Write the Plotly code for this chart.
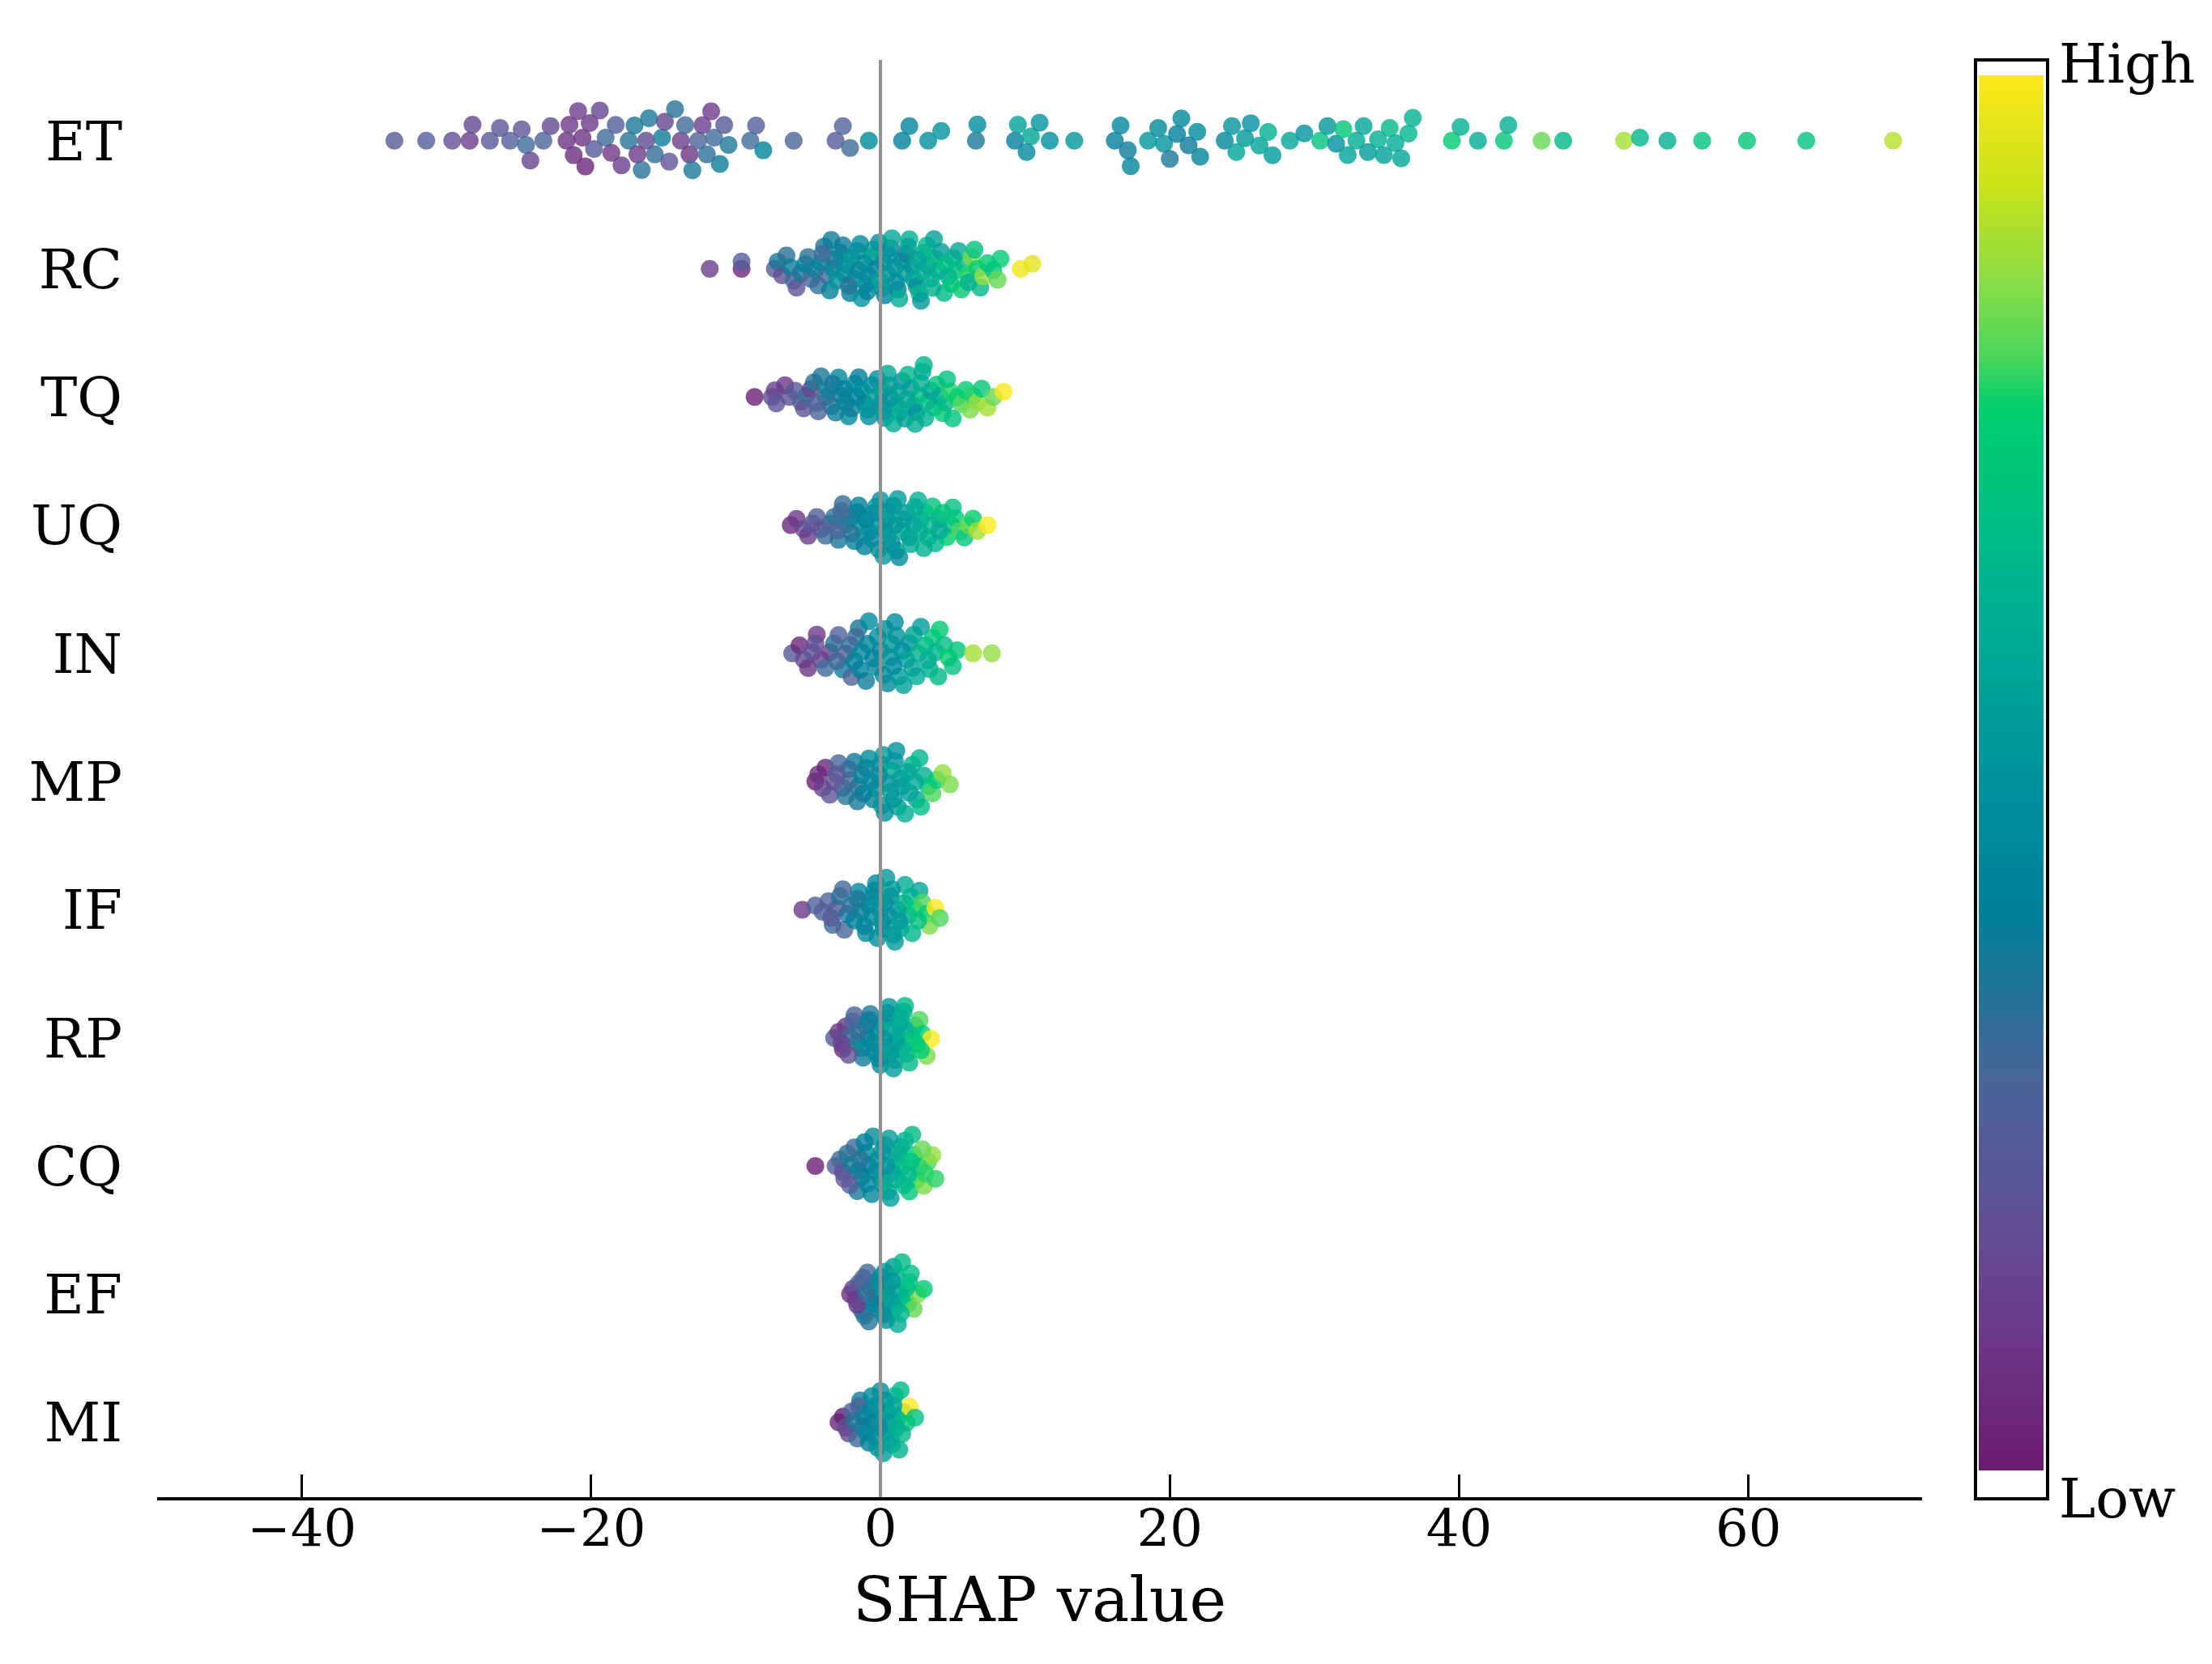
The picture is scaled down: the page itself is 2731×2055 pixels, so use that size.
import numpy as np
import plotly.graph_objects as go

# feature names, top to bottom
features = ["ET", "RC", "TQ", "UQ", "IN", "MP", "IF", "RP", "CQ", "EF", "MI"]

et_shap = [-33.6, -31.4, -29.6, -28.4, -28.2, -27.0, -26.3, -25.6, -24.8, -24.5,
           -24.2, -23.3, -22.8, -21.7, -21.5, -21.2, -20.9, -20.6, -20.4, -20.1,
           -19.8, -19.4, -19.0, -18.6, -18.3, -17.9, -17.4, -17.0, -16.8, -16.5,
           -16.2, -16.0, -15.6, -15.1, -14.9, -14.6, -14.2, -13.8, -13.5, -13.2,
           -13.0, -12.6, -12.3, -12.0, -11.7, -11.5, -11.1, -10.8, -10.5, -9.0,
           -8.6, -8.1, -6.0, -3.1, -2.6, -2.1, -0.8, 1.5, 2.0, 3.3,
           4.2, 6.6, 6.7, 9.3, 9.5, 10.1, 10.4, 11.0, 11.7, 13.4,
           16.2, 16.6, 17.1, 17.3, 18.5, 19.2, 19.6, 20.0, 20.5, 20.8,
           21.3, 21.9, 22.1, 23.8, 24.3, 24.6, 25.2, 25.6, 26.2, 26.8,
           27.1, 28.3, 29.3, 30.4, 30.9, 31.5, 32.0, 32.3, 32.9, 33.4,
           33.7, 34.4, 34.8, 35.2, 35.6, 36.0, 36.5, 36.8, 39.5, 40.1,
           41.3, 43.1, 43.4, 45.7, 47.2, 51.4, 52.5, 54.4, 56.8, 59.9,
           64.0, 70.0]
et_value = [0.22, 0.25, 0.18, 0.12, 0.15, 0.22, 0.20, 0.25, 0.20, 0.30,
            0.14, 0.28, 0.16, 0.08, 0.10, 0.06, 0.12, 0.08, 0.04, 0.10,
            0.22, 0.14, 0.30, 0.09, 0.25, 0.12, 0.34, 0.36, 0.10, 0.33,
            0.16, 0.36, 0.32, 0.38, 0.14, 0.20, 0.34, 0.11, 0.30, 0.08,
            0.36, 0.28, 0.12, 0.33, 0.10, 0.30, 0.38, 0.22, 0.35, 0.30,
            0.25, 0.42, 0.28, 0.22, 0.26, 0.30, 0.46, 0.40, 0.42, 0.48,
            0.50, 0.36, 0.47, 0.40, 0.56, 0.45, 0.58, 0.50, 0.48, 0.52,
            0.40, 0.44, 0.38, 0.42, 0.52, 0.46, 0.50, 0.36, 0.40, 0.44,
            0.38, 0.46, 0.42, 0.44, 0.50, 0.58, 0.52, 0.48, 0.56, 0.62,
            0.54, 0.58, 0.50, 0.70, 0.52, 0.48, 0.72, 0.56, 0.60, 0.58,
            0.54, 0.62, 0.56, 0.66, 0.60, 0.58, 0.64, 0.62, 0.74, 0.62,
            0.60, 0.72, 0.62, 0.82, 0.66, 0.88, 0.64, 0.62, 0.70, 0.72,
            0.70, 0.90]

rc_shap = [-11.8, -9.6, -9.6, -7.3, -7.1, -6.8, -6.5, -6.2, -6.0, -5.8,
           -5.5, -5.2, -5.0, -4.8, -4.5, -4.3, -4.1, -3.9, -3.7, -3.5,
           -3.3, -3.1, -3.0, -2.8, -2.6, -2.5, -2.3, -2.1, -2.0, -1.8,
           -1.6, -1.5, -1.3, -1.1, -1.0, -0.8, -0.6, -0.5, -0.3, -0.1,
           0.0, 0.2, 0.3, 0.5, 0.7, 0.8, 1.0, 1.2, 1.3, 1.5,
           1.7, 1.8, 2.0, 2.2, 2.3, 2.5, 2.7, 2.8, 3.0, 3.2,
           3.3, 3.5, 3.7, 3.8, 4.0, 4.2, 4.4, 4.5, 4.7, 4.9,
           5.0, 5.2, 5.4, 5.6, 5.8, 6.0, 6.1, 6.3, 6.5, 6.7,
           6.9, 7.1, 7.4, 7.8, 8.1, 8.3, 9.7, 10.5, -0.9, 0.6,
           -2.2, 1.1, 2.6, -4.0, 3.6, -1.4, 0.1, 1.9, -3.4, 2.9]
rc_value = [0.12, 0.04, 0.24, 0.22, 0.36, 0.18, 0.34, 0.38, 0.30, 0.20,
            0.36, 0.40, 0.34, 0.28, 0.38, 0.32, 0.42, 0.36, 0.30, 0.40,
            0.45, 0.36, 0.50, 0.42, 0.38, 0.46, 0.48, 0.40, 0.52, 0.44,
            0.48, 0.42, 0.50, 0.46, 0.54, 0.44, 0.50, 0.58, 0.42, 0.48,
            0.56, 0.46, 0.40, 0.52, 0.44, 0.58, 0.50, 0.42, 0.60, 0.48,
            0.54, 0.38, 0.62, 0.50, 0.56, 0.46, 0.64, 0.52, 0.58, 0.66,
            0.50, 0.60, 0.56, 0.68, 0.62, 0.54, 0.66, 0.70, 0.60, 0.72,
            0.64, 0.68, 0.58, 0.74, 0.66, 0.78, 0.62, 0.84, 0.70, 0.76,
            0.64, 0.86, 0.74, 0.70, 0.82, 0.74, 0.98, 0.96, 0.40, 0.50,
            0.34, 0.48, 0.58, 0.30, 0.62, 0.46, 0.52, 0.56, 0.38, 0.60]

tq_shap = [-8.7, -7.5, -7.3, -7.2, -6.6, -6.3, -5.9, -5.5, -5.3, -5.1,
           -4.8, -4.6, -4.4, -4.1, -3.8, -3.6, -3.4, -3.1, -2.9, -2.7,
           -2.4, -2.2, -2.0, -1.8, -1.5, -1.3, -1.1, -0.9, -0.6, -0.4,
           -0.2, 0.1, 0.3, 0.5, 0.7, 0.9, 1.1, 1.3, 1.5, 1.7,
           1.9, 2.1, 2.3, 2.5, 2.7, 2.9, 3.1, 3.3, 3.5, 3.7,
           3.9, 4.1, 4.3, 4.5, 4.8, 5.0, 5.3, 5.6, 5.9, 6.2,
           6.4, 6.7, 7.0, 7.4, 7.8, 8.5, -1.6, 0.0, 1.2, 2.4,
           -3.3, -0.8, 0.6, 3.0, -2.5, 1.8, 4.6, -4.3, 0.2, 2.8]
tq_value = [0.02, 0.16, 0.14, 0.20, 0.10, 0.18, 0.22, 0.26, 0.18, 0.30,
            0.12, 0.34, 0.26, 0.36, 0.30, 0.40, 0.34, 0.38, 0.44, 0.36,
            0.42, 0.46, 0.38, 0.48, 0.40, 0.50, 0.44, 0.52, 0.46, 0.54,
            0.48, 0.56, 0.50, 0.58, 0.44, 0.60, 0.52, 0.62, 0.48, 0.56,
            0.64, 0.54, 0.60, 0.50, 0.66, 0.58, 0.62, 0.70, 0.56, 0.64,
            0.72, 0.60, 0.74, 0.66, 0.78, 0.70, 0.76, 0.80, 0.74, 0.84,
            0.78, 0.86, 0.72, 0.88, 0.82, 1.00, 0.42, 0.50, 0.56, 0.60,
            0.36, 0.48, 0.54, 0.64, 0.40, 0.58, 0.70, 0.28, 0.52, 0.62]

uq_shap = [-6.2, -5.8, -5.3, -5.0, -4.7, -4.4, -4.1, -3.8, -3.5, -3.2,
           -2.9, -2.6, -2.4, -2.1, -1.8, -1.6, -1.3, -1.1, -0.8, -0.6,
           -0.3, -0.1, 0.2, 0.4, 0.6, 0.9, 1.1, 1.3, 1.6, 1.8,
           2.1, 2.3, 2.6, 2.8, 3.1, 3.3, 3.6, 3.8, 4.1, 4.3,
           4.6, 4.9, 5.2, 5.5, 5.8, 6.1, 6.4, 6.7, 7.4, -2.0,
           -1.0, 0.0, 0.8, 1.5, 2.4, 3.0, -0.5, 1.0, 2.0, -1.5,
           0.3, 3.5, -2.7, 4.1, 1.2, -0.2, 2.7, 0.5, 5.0, -3.0]
uq_value = [0.04, 0.10, 0.16, 0.12, 0.20, 0.24, 0.18, 0.30, 0.26, 0.34,
            0.36, 0.32, 0.40, 0.36, 0.42, 0.38, 0.46, 0.40, 0.48, 0.44,
            0.50, 0.46, 0.52, 0.48, 0.54, 0.50, 0.56, 0.46, 0.58, 0.52,
            0.60, 0.54, 0.62, 0.58, 0.66, 0.60, 0.70, 0.64, 0.58, 0.72,
            0.76, 0.68, 0.74, 0.80, 0.72, 0.82, 0.76, 0.88, 1.00, 0.34,
            0.42, 0.50, 0.48, 0.56, 0.60, 0.62, 0.46, 0.52, 0.56, 0.40,
            0.50, 0.64, 0.30, 0.60, 0.54, 0.48, 0.60, 0.52, 0.70, 0.28]

in_shap = [-6.1, -5.6, -5.3, -5.0, -4.7, -4.4, -4.1, -3.8, -3.5, -3.2,
           -2.9, -2.6, -2.4, -2.1, -1.8, -1.5, -1.3, -1.0, -0.8, -0.5,
           -0.2, 0.0, 0.3, 0.5, 0.8, 1.0, 1.3, 1.5, 1.8, 2.0,
           2.3, 2.6, 2.8, 3.1, 3.3, 3.6, 3.8, 4.1, 4.4, 4.7,
           5.0, 5.3, 6.4, 7.7, -2.0, -1.7, 0.7, 1.6, 2.5, -0.9,
           0.2, -3.0, 3.4, 1.1, -1.4, 4.0, 0.9, -0.3, 2.2, -4.5]
in_value = [0.22, 0.04, 0.16, 0.08, 0.20, 0.10, 0.14, 0.30, 0.12, 0.34,
            0.26, 0.38, 0.22, 0.32, 0.40, 0.36, 0.44, 0.38, 0.46, 0.40,
            0.48, 0.42, 0.50, 0.44, 0.52, 0.46, 0.54, 0.48, 0.56, 0.50,
            0.58, 0.62, 0.54, 0.66, 0.60, 0.70, 0.64, 0.74, 0.68, 0.76,
            0.70, 0.72, 0.88, 0.86, 0.26, 0.30, 0.50, 0.56, 0.60, 0.42,
            0.48, 0.30, 0.62, 0.50, 0.40, 0.66, 0.46, 0.44, 0.56, 0.18]

mp_shap = [-4.5, -4.3, -4.0, -3.8, -3.5, -3.2, -2.9, -2.6, -2.4, -2.1,
           -1.8, -1.5, -1.3, -1.0, -0.8, -0.5, -0.3, 0.0, 0.2, 0.5,
           0.7, 1.0, 1.2, 1.5, 1.7, 2.0, 2.2, 2.5, 2.8, 3.0,
           3.3, 3.6, 3.9, 4.3, 4.8, 0.8, -1.2, 0.3, 1.4, -2.2,
           2.4, -0.6, 0.9, 1.9, -1.6, 0.1, -3.0, 2.7, -0.1, 1.1]
mp_value = [0.02, 0.06, 0.12, 0.04, 0.20, 0.16, 0.28, 0.24, 0.34, 0.30,
            0.38, 0.34, 0.42, 0.38, 0.46, 0.42, 0.50, 0.46, 0.52, 0.48,
            0.54, 0.50, 0.56, 0.52, 0.60, 0.56, 0.64, 0.58, 0.68, 0.62,
            0.72, 0.80, 0.74, 0.86, 0.84, 0.58, 0.40, 0.48, 0.54, 0.32,
            0.60, 0.44, 0.52, 0.58, 0.36, 0.50, 0.22, 0.64, 0.46, 0.50]

if_shap = [-5.4, -4.5, -4.0, -3.6, -3.3, -3.0, -2.8, -2.5, -2.3, -2.0,
           -1.8, -1.5, -1.3, -1.0, -0.8, -0.5, -0.3, 0.0, 0.2, 0.4,
           0.7, 0.9, 1.2, 1.4, 1.6, 1.9, 2.1, 2.4, 2.7, 2.9,
           3.2, 3.4, 3.8, 4.1, -1.1, -0.2, 0.6, 1.0, -2.6, 1.7,
           -0.6, 0.3, 2.2, -1.6, 1.3, -0.4, 0.8, 2.6, -3.4, 0.1]
if_value = [0.10, 0.26, 0.24, 0.26, 0.30, 0.22, 0.34, 0.28, 0.36, 0.32,
            0.40, 0.44, 0.38, 0.46, 0.42, 0.48, 0.44, 0.50, 0.46, 0.52,
            0.48, 0.54, 0.50, 0.56, 0.62, 0.58, 0.66, 0.74, 0.58, 0.80,
            0.76, 0.84, 1.00, 0.80, 0.42, 0.48, 0.50, 0.52, 0.30, 0.60,
            0.46, 0.50, 0.64, 0.36, 0.54, 0.44, 0.52, 0.70, 0.24, 0.48]

rp_shap = [-3.2, -2.9, -2.6, -2.4, -2.1, -1.9, -1.6, -1.3, -1.2, -0.9,
           -0.7, -0.4, -0.2, 0.1, 0.3, 0.5, 0.8, 1.0, 1.2, 1.5,
           1.7, 1.9, 2.2, 2.4, 2.7, 2.9, 3.2, 3.5, -1.0, 0.0,
           0.6, 1.3, 2.0, -0.5, -1.8, 0.9, 1.6, -2.2, 0.4, 2.5,
           -0.1, 1.1, -1.5, 0.2, 1.8, -0.8, 0.7, 2.8, -2.7, 1.4]
rp_value = [0.22, 0.12, 0.04, 0.10, 0.30, 0.26, 0.34, 0.46, 0.38, 0.42,
            0.36, 0.44, 0.40, 0.50, 0.54, 0.48, 0.58, 0.52, 0.62, 0.56,
            0.66, 0.60, 0.70, 0.64, 0.80, 0.74, 0.84, 1.00, 0.40, 0.48,
            0.52, 0.58, 0.66, 0.42, 0.28, 0.54, 0.62, 0.18, 0.50, 0.72,
            0.44, 0.56, 0.32, 0.50, 0.64, 0.38, 0.54, 0.76, 0.14, 0.60]

cq_shap = [-4.5, -3.1, -2.8, -2.6, -2.3, -2.0, -1.8, -1.5, -1.3, -1.0,
           -0.8, -0.5, -0.3, 0.0, 0.2, 0.5, 0.7, 1.0, 1.2, 1.5,
           1.7, 2.0, 2.2, 2.5, 2.7, 3.0, 3.3, 3.6, 3.8, -1.6,
           -0.6, 0.3, 1.1, 1.9, -2.1, 0.8, -1.1, 2.3, 0.1, 1.4,
           -0.2, 2.9, -2.5, 0.6, 1.6, -0.9, 3.1, -1.4, 0.4, 2.1]
cq_value = [0.02, 0.22, 0.30, 0.18, 0.34, 0.38, 0.30, 0.40, 0.36, 0.44,
            0.40, 0.46, 0.42, 0.50, 0.56, 0.60, 0.54, 0.64, 0.58, 0.68,
            0.62, 0.72, 0.66, 0.76, 0.70, 0.84, 0.80, 0.86, 0.78, 0.36,
            0.44, 0.52, 0.60, 0.66, 0.26, 0.58, 0.40, 0.74, 0.48, 0.62,
            0.46, 0.82, 0.20, 0.54, 0.66, 0.42, 0.78, 0.34, 0.50, 0.70]

ef_shap = [-2.1, -1.9, -1.7, -1.5, -1.3, -1.1, -0.9, -0.7, -0.5, -0.3,
           -0.1, 0.1, 0.3, 0.5, 0.7, 0.9, 1.1, 1.3, 1.5, 1.7,
           1.9, 2.1, 2.3, 2.6, 3.0, -1.6, -0.8, 0.0, 0.6, 1.2,
           1.8, -1.2, 0.4, 1.0, -0.4, 2.0, 0.2, -1.0, 1.4, 0.8]
ef_value = [0.06, 0.14, 0.10, 0.22, 0.32, 0.36, 0.30, 0.40, 0.36, 0.42,
            0.38, 0.50, 0.54, 0.48, 0.58, 0.52, 0.62, 0.56, 0.66, 0.60,
            0.72, 0.68, 0.82, 0.84, 0.74, 0.12, 0.34, 0.46, 0.54, 0.60,
            0.66, 0.28, 0.50, 0.56, 0.40, 0.70, 0.48, 0.32, 0.64, 0.52]

mi_shap = [-2.9, -2.6, -2.4, -2.2, -2.0, -1.8, -1.6, -1.4, -1.2, -1.0,
           -0.8, -0.6, -0.4, -0.2, 0.0, 0.2, 0.4, 0.6, 0.8, 1.0,
           1.2, 1.4, 1.6, 1.8, 2.0, 2.4, -1.5, -0.5, 0.1, 0.7,
           1.3, -1.1, -0.1, 0.5, 1.1, -0.7, 0.3, 0.9, -0.3, 1.5]
mi_value = [0.04, 0.02, 0.18, 0.14, 0.26, 0.34, 0.30, 0.38, 0.36, 0.42,
            0.40, 0.46, 0.44, 0.50, 0.48, 0.54, 0.52, 0.58, 0.56, 0.62,
            0.60, 0.66, 0.64, 0.72, 1.00, 0.70, 0.28, 0.44, 0.50, 0.56,
            0.62, 0.38, 0.46, 0.54, 0.60, 0.42, 0.50, 0.58, 0.48, 0.64]

shap_rows = [et_shap, rc_shap, tq_shap, uq_shap, in_shap, mp_shap,
             if_shap, rp_shap, cq_shap, ef_shap, mi_shap]
value_rows = [et_value, rc_value, tq_value, uq_value, in_value, mp_value,
              if_value, rp_value, cq_value, ef_value, mi_value]

# colormap
cmap = [[0.00, "#6a1b6f"], [0.10, "#6b3a88"], [0.20, "#5d5597"],
        [0.28, "#4a6598"], [0.35, "#1f7596"], [0.40, "#00809a"],
        [0.50, "#00929c"], [0.60, "#00ab94"], [0.68, "#00be84"],
        [0.76, "#00cd6e"], [0.80, "#4ed65c"], [0.86, "#93dd43"],
        [0.92, "#c8e21a"], [1.00, "#fbe81a"]]

W, H = 2731, 2055
L, R, T, B = 186, 366, 66, 214
x_lo, x_hi = -50, 72
y_lo, y_hi = -0.584, 10.63
pw = W - L - R
ph = H - T - B
px_per_unit = pw / (x_hi - x_lo)
px_per_row = ph / (y_hi - y_lo)
FONT = "DejaVu Serif"


def swarm(xs, d=20.0, limit=0.25):
    # beeswarm offsets: each dot goes to the nearest free height, in pixels
    xp = np.asarray(xs) * px_per_unit
    ys = np.zeros(len(xp))
    px_done, py_done = [], []
    for i in np.argsort(xp, kind="stable"):
        x = xp[i]
        near = [(a, b) for a, b in zip(px_done, py_done) if abs(a - x) < d]
        cands = [0.0]
        for a, b in near:
            h = np.sqrt(d * d - (a - x) ** 2)
            cands += [b + h, b - h]
        cands.sort(key=abs)
        y = cands[0]
        for c in cands:
            if all((a - x) ** 2 + (b - c) ** 2 >= d * d - 1e-6 for a, b in near):
                y = c
                break
        ys[i] = y
        px_done.append(x)
        py_done.append(y)
    ys = ys / px_per_row
    m = np.max(np.abs(ys))
    if m > limit:
        ys *= limit / m
    return ys


all_x, all_y, all_c = [], [], []
n = len(features)
for i, (sx, cv) in enumerate(zip(shap_rows, value_rows)):
    pos = n - 1 - i
    all_x += list(sx)
    all_y += list(pos + swarm(sx))
    all_c += list(cv)

fig = go.Figure()
fig.add_trace(go.Scatter(
    x=all_x, y=all_y, mode="markers",
    marker=dict(size=22, color=all_c, colorscale=cmap, cmin=0, cmax=1,
                opacity=0.8, line_width=0,
                colorbar=dict(thickness=80, thicknessmode="pixels",
                              len=0.9707, lenmode="fraction",
                              y=0.504, yanchor="middle",
                              x=(2435 - L) / pw, xanchor="left",
                              xpad=0, ypad=0, outlinewidth=0,
                              showticklabels=False, ticks="")),
    hoverinfo="skip", showlegend=False))

fig.add_shape(type="rect", xref="paper", yref="paper",
              x0=(2431 - L) / pw, x1=(2520 - L) / pw,
              y0=(H - B - 1843) / ph, y1=(H - B - 66) / ph,
              line=dict(color="black", width=4))
fig.add_shape(type="line", xref="x", yref="paper", x0=0, x1=0, y0=0, y1=1,
              line=dict(color="#929292", width=4), layer="above")

fig.add_annotation(text="High", xref="paper", yref="paper",
                   x=(2532 - L) / pw, y=(H - B - 70) / ph,
                   xanchor="left", yanchor="middle", showarrow=False,
                   font=dict(family=FONT, size=68, color="black"))
fig.add_annotation(text="Low", xref="paper", yref="paper",
                   x=(2532 - L) / pw, y=(H - B - 1842) / ph,
                   xanchor="left", yanchor="middle", showarrow=False,
                   font=dict(family=FONT, size=68, color="black"))

fig.update_layout(
    width=W, height=H,
    margin=dict(l=L, r=R, t=T, b=B, autoexpand=False),
    paper_bgcolor="white", plot_bgcolor="white",
    font=dict(family=FONT, color="black"),
    xaxis=dict(range=[x_lo, x_hi], tickvals=[-40, -20, 0, 20, 40, 60],
               ticks="inside", ticklen=28, tickwidth=3, tickcolor="black",
               showline=True, linewidth=3.5, linecolor="black",
               showgrid=False, zeroline=False, ticklabelstandoff=-20,
               tickfont=dict(family=FONT, size=64),
               title=dict(text="SHAP value", standoff=26,
                          font=dict(family=FONT, size=77))),
    yaxis=dict(range=[y_lo, y_hi], tickvals=list(range(n)),
               ticktext=features[::-1], ticks="", showline=False,
               showgrid=False, zeroline=False, ticklabelstandoff=42,
               tickfont=dict(family=FONT, size=68)),
)

fig.write_html("out.html")
